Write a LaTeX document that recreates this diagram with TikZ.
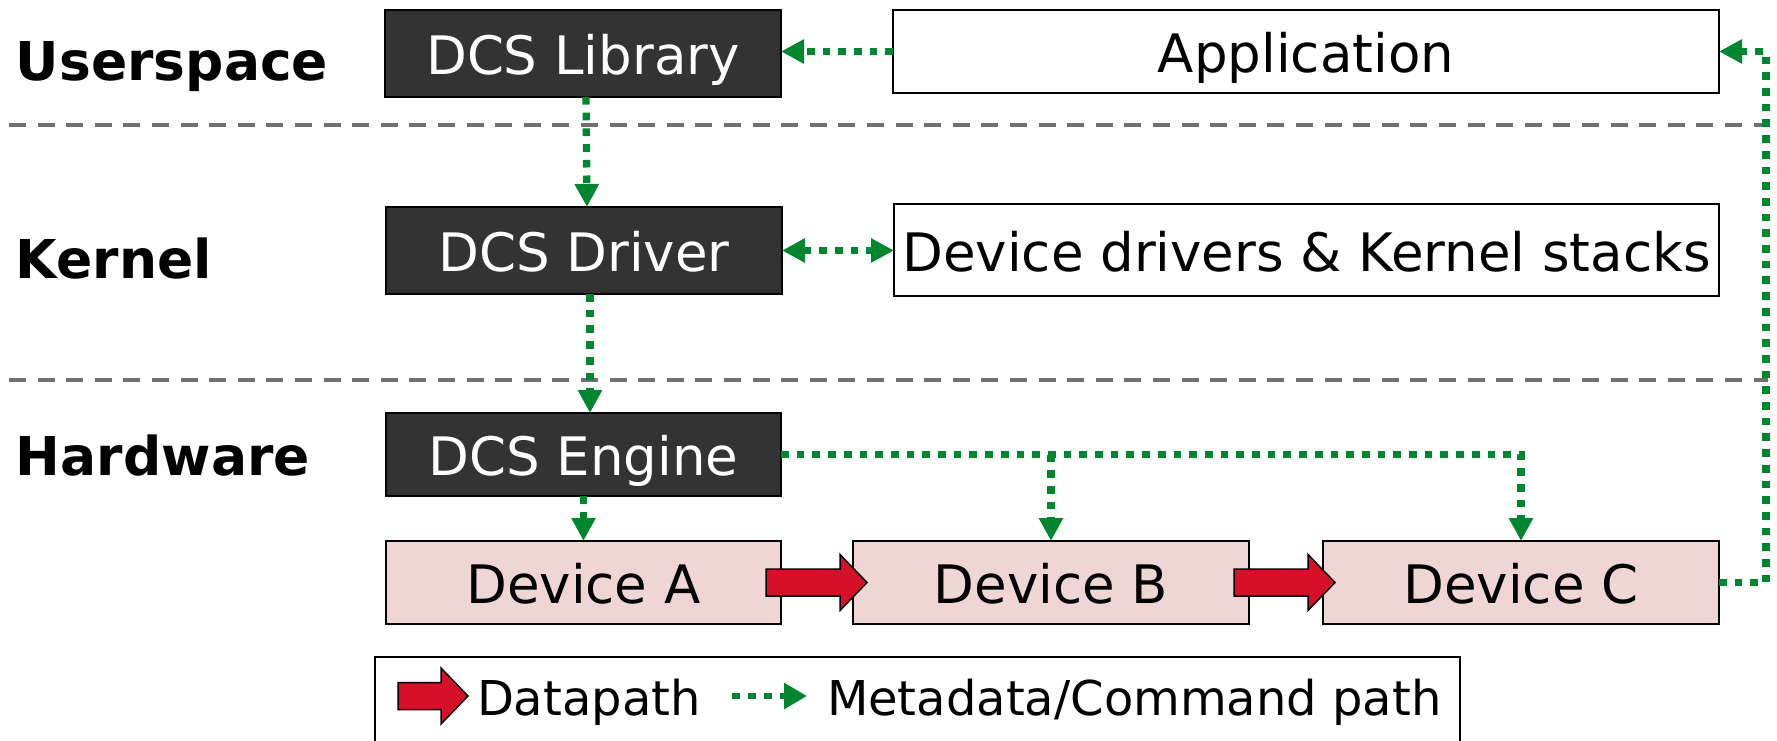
\documentclass[tikz,border=0pt]{standalone}
\usepackage{fontspec}
\setmainfont{DejaVu Sans}
\usetikzlibrary{arrows.meta,calc}
\definecolor{pathgreen}{RGB}{0,134,47}
\definecolor{darkfill}{RGB}{51,51,51}
\definecolor{devfill}{RGB}{240,213,213}
\definecolor{datared}{RGB}{214,16,40}
\definecolor{sepgray}{RGB}{112,112,112}

\tikzset{
  pics/blockarrow/.style={code={
    \draw[datapath] (0,-13.5) -- (#1,-13.5) -- (#1,-28) -- ({#1+27},0)
      -- (#1,28) -- (#1,13.5) -- (0,13.5) -- cycle;}},
}

\begin{document}
\begin{tikzpicture}[x=1pt,y=-1pt,
  every node/.style={inner sep=0pt, outer sep=0pt},
  boxtext/.style={font=\fontsize{53}{60}\selectfont, text height=42pt, text depth=0pt},
  darkbox/.style={boxtext, draw=black, line width=2pt, fill=darkfill, text=white},
  lightbox/.style={boxtext, draw=black, line width=2pt, fill=white},
  devbox/.style={boxtext, draw=black, line width=2pt, fill=devfill},
  layer/.style={font=\fontsize{53.5}{60}\selectfont\bfseries, anchor=base west},
  sepline/.style={draw=sepgray, line width=4pt, dash pattern=on 17pt off 11.6pt},
  metaline/.style={draw=pathgreen, line width=7.3pt, dash pattern=on 7.7pt off 8pt},
  meta/.style={metaline, -{Triangle[length=23pt,width=23pt]}},
  metaboth/.style={metaline, {Triangle[length=23pt,width=23pt]}-{Triangle[length=23pt,width=23pt]}},
  metakey/.style={draw=pathgreen, line width=6.7pt, dash pattern=on 8pt off 8pt,
    -{Triangle[length=23pt,width=25pt]}},
  datapath/.style={draw=black, line width=1.5pt, fill=datared, line join=miter},
  legendtext/.style={font=\fontsize{48}{54}\selectfont, text height=35pt, text depth=0pt, anchor=west},
]
\useasboundingbox (0,0) rectangle (1777,741);

% layer separators
\draw[sepline] (9,125) -- (1768,125);
\draw[sepline] (9,380) -- (1768,380);

% layer names
\node[layer] (us) at (16,80.5) {Userspace};
\node[layer] (kn) at (16,278) {Kernel};
\node[layer] (hw) at (16,475) {Hardware};

% components
\node[darkbox, minimum width=396pt, minimum height=87pt] (lib) at (583,53.5) {DCS Library};
\node[lightbox, minimum width=826pt, minimum height=83pt] (app) at (1306,51.5) {Application};
\node[darkbox, minimum width=396pt, minimum height=87pt] (drv) at (584,250.5) {DCS Driver};
\node[lightbox, minimum width=825pt, minimum height=92pt] (ddrv) at (1306.5,250) {Device drivers \& Kernel stacks};
\node[darkbox, minimum width=395pt, minimum height=83pt] (eng) at (583.5,454.5) {DCS Engine};
\node[devbox, minimum width=395pt, minimum height=83pt] (devA) at (583.5,582.5) {Device A};
\node[devbox, minimum width=396pt, minimum height=83pt] (devB) at (1051,582.5) {Device B};
\node[devbox, minimum width=396pt, minimum height=83pt] (devC) at (1521,582.5) {Device C};

% metadata / command paths
\draw[meta] (app.west) -- (app.west -| lib.east);
\draw[meta] ($(lib.south)+(3,0)$) -- ($(drv.north)+(3,0)$);
\draw[metaboth] (drv.east) -- (drv.east -| ddrv.west);
\draw[meta] ($(drv.south)+(6,0)$) -- ($(eng.north)+(6.5,0)$);
\draw[meta] (eng.south) -- (devA.north);
\draw[meta] (eng.east) -| (devC.north);
\draw[meta] (eng.east -| devB.north) -- (devB.north);
\coordinate (rail) at (1766,0);
\draw[meta] (devC.east) -- (devC.east -| rail) -- (app.east -| rail) -- (app.east);

% datapath
\pic at ($(devA.east)+(-15,0)$) {blockarrow=74};
\pic at ($(devB.east)+(-15,0)$) {blockarrow=74};

% legend
\node[draw=black, line width=1.8pt, minimum width=1085pt, minimum height=88pt] (legend) at (917.5,701) {};
\pic at ($(legend.west)+(23,-5)$) {blockarrow=43};
\node[legendtext] (dpl) at ($(legend.west)+(102,-3.5)$) {Datapath};
\coordinate (keystart) at ($(legend.west)+(357,-5)$);
\draw[metakey] (keystart) -- ++(75,0);
\node[legendtext] (mdl) at ($(legend.west)+(452,-3.5)$) {Metadata/Command path};
\end{tikzpicture}
\end{document}
